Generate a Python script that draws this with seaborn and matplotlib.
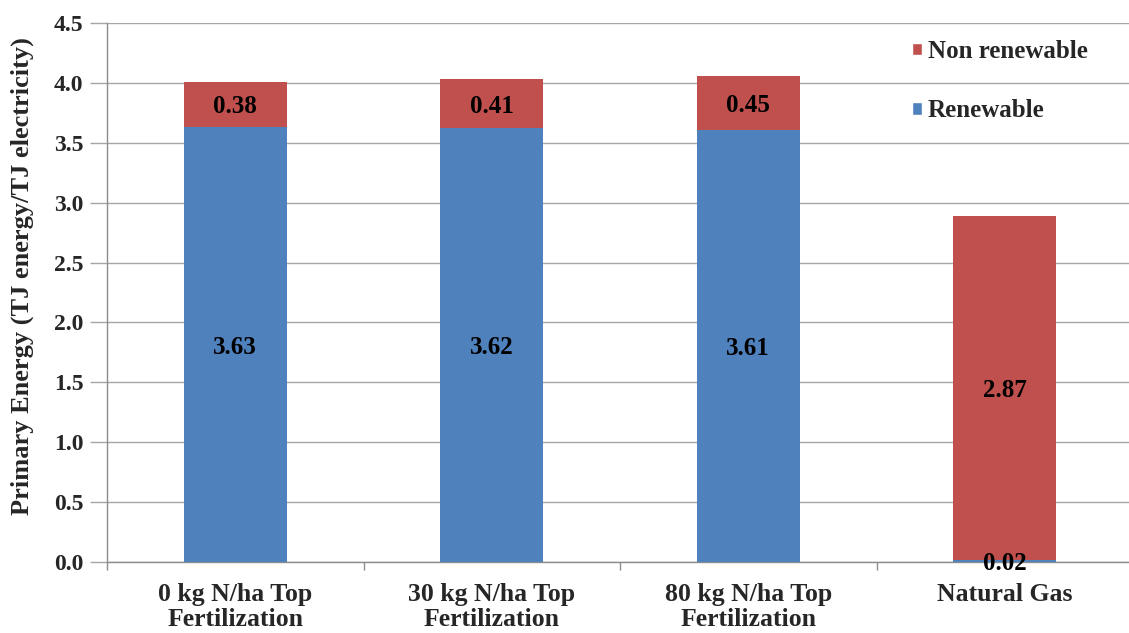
import numpy as np
import pandas as pd
import matplotlib
matplotlib.use("Agg")
import matplotlib.pyplot as plt
import seaborn as sns
from matplotlib.patches import Patch
from matplotlib.ticker import FixedLocator

categories = ["0 kg N/ha Top\nFertilization", "30 kg N/ha Top\nFertilization",
              "80 kg N/ha Top\nFertilization", "Natural Gas"]
renewable = [3.63, 3.62, 3.61, 0.02]
non_renewable = [0.38, 0.41, 0.45, 2.87]
y_ticks = [0.0, 0.5, 1.0, 1.5, 2.0, 2.5, 3.0, 3.5, 4.0, 4.5]

BLUE = "#4F81BD"
RED = "#C0504D"
GRID = "#A6A6A6"
AXIS = "#8C8C8C"

sns.set_theme(style="white")
plt.rcParams["font.family"] = ["Liberation Serif", "DejaVu Serif"]
plt.rcParams["font.weight"] = "bold"

df = pd.DataFrame({
    "category": categories,
    "renewable": renewable,
    "non_renewable": non_renewable,
})
df["total"] = df["renewable"] + df["non_renewable"]

fig = plt.figure(figsize=(11.29, 6.33), dpi=100)
ax = fig.add_axes([107 / 1129, 1 - 562 / 633, (1133 - 107) / 1129, (562 - 23) / 633])

# stacked bars: full height in red, renewable share drawn over it in blue
sns.barplot(data=df, x="category", y="total", color=RED, saturation=1,
            width=0.4, ax=ax, zorder=2)
sns.barplot(data=df, x="category", y="renewable", color=BLUE, saturation=1,
            width=0.4, ax=ax, zorder=3)
for p in ax.patches:
    p.set_edgecolor("none")

ax.set_xlim(-0.5, 3.5)
ax.set_ylim(0, 4.5)
ax.set_yticks(y_ticks)
ax.set_yticklabels([f"{v:.1f}" for v in y_ticks])
ax.grid(axis="y", color=GRID, linewidth=1.0, zorder=0)
ax.set_axisbelow(True)

ax.set_xlabel("")
ax.set_ylabel("Primary Energy (TJ energy/TJ electricity)", fontsize=19,
              fontweight="bold")
ax.yaxis.set_label_coords(-0.071, 0.53)

ax.tick_params(axis="x", which="major", length=0, pad=15, labelsize=18.5)
ax.xaxis.set_minor_locator(FixedLocator([-0.5, 0.5, 1.5, 2.5, 3.5]))
ax.tick_params(axis="x", which="minor", length=6, width=1, color=AXIS,
               bottom=True)
ax.tick_params(axis="y", length=12.5, width=1, color=GRID, labelsize=17,
               left=True, pad=4.5)
for lbl in ax.get_xticklabels() + ax.get_yticklabels():
    lbl.set_fontweight("bold")
for lbl in ax.get_xticklabels():
    lbl.set_linespacing(1.1)

for side in ["top", "right"]:
    ax.spines[side].set_visible(False)
for side in ["left", "bottom"]:
    ax.spines[side].set_color(AXIS)
    ax.spines[side].set_linewidth(1.0)

# value labels centred in each segment
for i, (r, n) in enumerate(zip(renewable, non_renewable)):
    ax.text(i, r / 2, f"{r:.2f}", ha="center", va="center_baseline",
            fontsize=18, fontweight="bold", color="black", zorder=5)
    ax.text(i, r + n / 2, f"{n:.2f}", ha="center", va="center_baseline",
            fontsize=18, fontweight="bold", color="black", zorder=5)

handles = [Patch(facecolor=RED, label="Non renewable"),
           Patch(facecolor=BLUE, label="Renewable")]
leg = ax.legend(handles=handles, loc="upper left",
                bbox_to_anchor=((889 - 107) / (1133 - 107), 1.01),
                frameon=False, fontsize=18, handlelength=0.4, handleheight=0.4,
                handletextpad=0.25, labelspacing=1.45)
for t in leg.get_texts():
    t.set_fontweight("bold")

fig.savefig("out.png", dpi=100)
